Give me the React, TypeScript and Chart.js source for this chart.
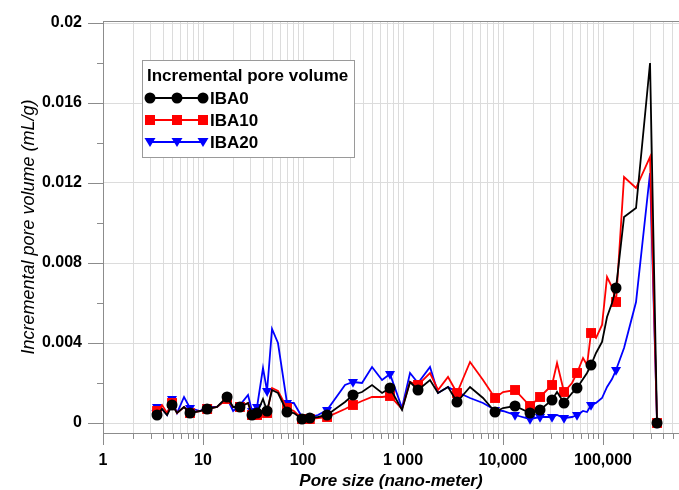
import { useEffect, useRef } from 'react';
import { Chart, registerables } from 'chart.js';

Chart.register(...registerables);

// Pore size bins (nm) shared by the three samples
const poreSize = [
  3.09, 3.47, 3.89, 4.37, 4.9, 5.5, 6.46, 7.41, 9.33, 11.0,
  13.8, 17.4, 20.0, 23.4, 28.2, 30.9, 34.7, 39.8, 43.7, 49.0,
  56.2, 69.2, 81, 97.7, 117, 141, 174, 263, 316, 389,
  490, 617, 741, 977, 1175, 1413, 1862, 2239, 2818, 3467,
  4677, 6310, 8318, 10000, 13183, 18621, 23442, 30903, 34674, 40738,
  48978, 54954, 63096, 69183, 75858, 85114, 97724, 109648, 123027, 134896,
  162181, 213796, 295121, 346737,
];

// Incremental pore volume (mL/g)
const iba0 = [
  0.0005, 0.0004, 0.0007, 0.0004, 0.0009, 0.0005, 0.0008, 0.0005, 0.0006, 0.0007,
  0.0008, 0.0013, 0.0008, 0.0008, 0.001, 0.0004, 0.0005, 0.0012, 0.0006, 0.00165,
  0.0015, 0.00055, 0.0005, 0.0002, 0.00025, 0.0003, 0.0004, 0.00105, 0.0014, 0.00155,
  0.0019, 0.0015, 0.00175, 0.00065, 0.00205, 0.00165, 0.00215, 0.0015, 0.0018, 0.00105,
  0.0018, 0.00125, 0.00055, 0.00075, 0.00085, 0.0005, 0.00065, 0.00115, 0.00155, 0.001,
  0.0015, 0.00175, 0.0022, 0.0025, 0.0029, 0.0035, 0.00405, 0.0053, 0.006, 0.00675,
  0.0103, 0.01075, 0.018, 0,
];

const iba10 = [
  0.0006, 0.0006, 0.0009, 0.0005, 0.001, 0.0005, 0.0008, 0.0005, 0.0006, 0.0007,
  0.0008, 0.0012, 0.0008, 0.0008, 0.001, 0.0004, 0.0004, 0.0006, 0.0005, 0.00175,
  0.0016, 0.00075, 0.0006, 0.0002, 0.0002, 0.00025, 0.0003, 0.0007, 0.0009, 0.0011,
  0.0013, 0.0013, 0.00135, 0.0007, 0.00205, 0.0019, 0.0025, 0.00165, 0.0023, 0.0015,
  0.00305, 0.00215, 0.00125, 0.00155, 0.00165, 0.00085, 0.0013, 0.0019, 0.003, 0.00155,
  0.002, 0.0025, 0.00325, 0.0029, 0.0045, 0.00425, 0.0049, 0.0073, 0.0068, 0.00605,
  0.0123, 0.01175, 0.0133, 0,
];

const iba20 = [
  0.0006, 0.0008, 0.0007, 0.0004, 0.0012, 0.0005, 0.0013, 0.00075, 0.0006, 0.0008,
  0.0008, 0.00125, 0.0006, 0.0009, 0.0014, 0.0006, 0.0008, 0.00275, 0.0016, 0.0047,
  0.004, 0.001, 0.001, 0.0003, 0.0003, 0.0004, 0.00065, 0.0019, 0.00205, 0.002,
  0.0028, 0.00215, 0.00245, 0.00075, 0.0025, 0.002, 0.0028, 0.0015, 0.0018, 0.00155,
  0.00125, 0.001, 0.00065, 0.0006, 0.0004, 0.0002, 0.0003, 0.0003, 0.0004, 0.00025,
  0.0003, 0.0004, 0.0006, 0.00055, 0.0009, 0.001, 0.00125, 0.0018, 0.0022, 0.00265,
  0.00375, 0.00605, 0.0125, 0,
];

// Points that carry a symbol (same positions for every sample)
const markedIndex = [
  1, 4, 7, 9, 11, 13, 15, 16, 18, 21, 23, 24, 26, 28, 32, 35, 39,
  42, 44, 45, 46, 47, 49, 51, 54, 59, 63,
];

const seriesNames = ['IBA0', 'IBA10', 'IBA20'];
const legendTitle = 'Incremental pore volume';

const xDecades = [1, 10, 100, 1000, 10000, 100000];
const xDecadeLabels = ['1', '10', '100', '1 000', '10,000', '100,000'];
const yTicks = [0, 0.002, 0.004, 0.006, 0.008, 0.01, 0.012, 0.014, 0.016, 0.018, 0.02];
const yTickLabels = ['0', '', '0.004', '', '0.008', '', '0.012', '', '0.016', '', '0.02'];

const X_MAX = 575000;
const FONT = 'Arial, "Liberation Sans", Helvetica, sans-serif';
const GRID = '#dcdcdc';
const AXIS = '#8c8c8c';
const COLORS = ['#000000', '#ff0000', '#0000ff'];

const xTickValues: number[] = [];
for (const d of xDecades) {
  for (let k = 1; k <= 9; k++) {
    const v = k * d;
    if (v <= X_MAX) xTickValues.push(v);
  }
}

function drawSymbol(ctx: CanvasRenderingContext2D, kind: number, x: number, y: number) {
  ctx.beginPath();
  if (kind === 0) {
    ctx.arc(x, y, 5.5, 0, Math.PI * 2);
  } else if (kind === 1) {
    ctx.rect(x - 5, y - 5, 10, 10);
  } else {
    ctx.moveTo(x - 5.5, y - 4);
    ctx.lineTo(x + 5.5, y - 4);
    ctx.lineTo(x, y + 5);
    ctx.closePath();
  }
  ctx.fill();
}

const framePlugin = {
  id: 'frame',
  afterDraw(chart: any) {
    const { ctx, chartArea: a, scales } = chart;
    const x = scales.x;
    const y = scales.y;
    ctx.save();
    ctx.strokeStyle = AXIS;
    ctx.lineWidth = 1;
    const seg = (x1: number, y1: number, x2: number, y2: number) => {
      ctx.beginPath();
      ctx.moveTo(x1, y1);
      ctx.lineTo(x2, y2);
      ctx.stroke();
    };
    // top edge of the plot frame
    seg(a.left, a.top + 0.5, a.right, a.top + 0.5);
    // y tick marks (outside)
    yTicks.forEach((v, i) => {
      const py = Math.round(y.getPixelForValue(v)) + 0.5;
      const len = i % 2 === 0 ? 15 : 6;
      seg(a.left - len, py, a.left, py);
    });
    // x tick marks (outside)
    xTickValues.forEach((v) => {
      const px = Math.round(x.getPixelForValue(v)) + 0.5;
      const len = xDecades.includes(v) ? 12 : 6;
      seg(px, a.bottom, px, a.bottom + len);
    });

    // legend box
    const bx = 142, by = 60, bw = 212, bh = 97;
    ctx.fillStyle = '#ffffff';
    ctx.fillRect(bx, by, bw, bh);
    ctx.strokeStyle = '#9a9a9a';
    ctx.strokeRect(bx + 0.5, by + 0.5, bw, bh);
    ctx.fillStyle = '#000';
    ctx.font = `bold 17px ${FONT}`;
    ctx.textBaseline = 'middle';
    ctx.textAlign = 'left';
    ctx.fillText(legendTitle, 147, 76);
    seriesNames.forEach((name, i) => {
      const ly = 98 + i * 22;
      ctx.strokeStyle = COLORS[i];
      ctx.fillStyle = COLORS[i];
      ctx.lineWidth = 2;
      seg(148, ly, 204, ly);
      [150, 177, 203].forEach((mx) => drawSymbol(ctx, i, mx, ly));
      ctx.fillStyle = '#000';
      ctx.fillText(name, 210, ly + 1);
    });
    ctx.restore();
  },
};

export default function App() {
  const canvasRef = useRef<HTMLCanvasElement | null>(null);

  useEffect(() => {
    if (!canvasRef.current) return;
    Chart.defaults.font.family = FONT;
    const series = [iba0, iba10, iba20];
    const styles = [
      { pointStyle: 'circle', radius: 5.5, rotation: 0 },
      { pointStyle: 'rect', radius: 7, rotation: 0 },
      { pointStyle: 'triangle', radius: 5.8, rotation: 180 },
    ];
    const chart = new Chart(canvasRef.current, {
      type: 'line',
      data: {
        datasets: series.map((vals, i) => ({
          label: seriesNames[i],
          data: poreSize.map((x, j) => ({ x, y: vals[j] })),
          borderColor: COLORS[i],
          backgroundColor: COLORS[i],
          borderWidth: 1.8,
          tension: 0,
          pointStyle: styles[i].pointStyle as any,
          pointRotation: styles[i].rotation,
          pointBorderWidth: 0,
          pointRadius: (c: any) => (markedIndex.includes(c.dataIndex) ? styles[i].radius : 0),
          pointHoverRadius: 0,
        })),
      },
      options: {
        animation: false,
        responsive: false,
        events: [],
        layout: { autoPadding: false, padding: { top: 21, right: 0, left: 0, bottom: 0 } },
        plugins: { legend: { display: false }, tooltip: { enabled: false } },
        scales: {
          x: {
            type: 'logarithmic',
            min: 1,
            max: X_MAX,
            afterBuildTicks: (s: any) => {
              s.ticks = xTickValues.map((v) => ({ value: v }));
            },
            afterFit: (s: any) => {
              s.height = 57;
              s.paddingLeft = 0;
              s.paddingRight = 0;
            },
            grid: { color: GRID, lineWidth: 1, drawTicks: false },
            border: { display: true, color: AXIS, width: 1 },
            ticks: {
              autoSkip: false,
              maxRotation: 0,
              minRotation: 0,
              padding: 18,
              color: '#000',
              font: { size: 16, weight: 'bold' },
              callback: (v: any) => {
                const k = xDecades.indexOf(Number(v));
                return k >= 0 ? xDecadeLabels[k] : '';
              },
            },
            title: {
              display: true,
              text: 'Pore size (nano-meter)',
              color: '#000',
              font: { size: 17, weight: 'bold', style: 'italic' },
              padding: { top: 0, bottom: -2 },
            },
          },
          y: {
            type: 'linear',
            min: -0.0005,
            max: 0.0201,
            afterBuildTicks: (s: any) => {
              s.ticks = yTicks.map((v) => ({ value: v }));
            },
            afterFit: (s: any) => {
              s.width = 103;
              s.paddingTop = 0;
              s.paddingBottom = 0;
            },
            grid: {
              color: (c: any) => (c.index % 2 === 0 ? GRID : 'rgba(0,0,0,0)'),
              lineWidth: 1,
              drawTicks: false,
            },
            border: { display: true, color: AXIS, width: 1 },
            ticks: {
              autoSkip: false,
              padding: 21,
              color: '#000',
              font: { size: 16, weight: 'bold' },
              callback: (_v: any, i: number) => yTickLabels[i],
            },
            title: {
              display: true,
              text: 'Incremental pore volume (mL/g)',
              color: '#000',
              font: { size: 18, style: 'italic' },
              padding: { top: 18, bottom: 0 },
            },
          },
        },
      },
      plugins: [framePlugin],
    } as any);
    return () => chart.destroy();
  }, []);

  return (
    <div style={{ position: 'absolute', left: 0, top: 0, width: 679, height: 490, background: '#fff' }}>
      <canvas ref={canvasRef} width={679} height={490} />
    </div>
  );
}
